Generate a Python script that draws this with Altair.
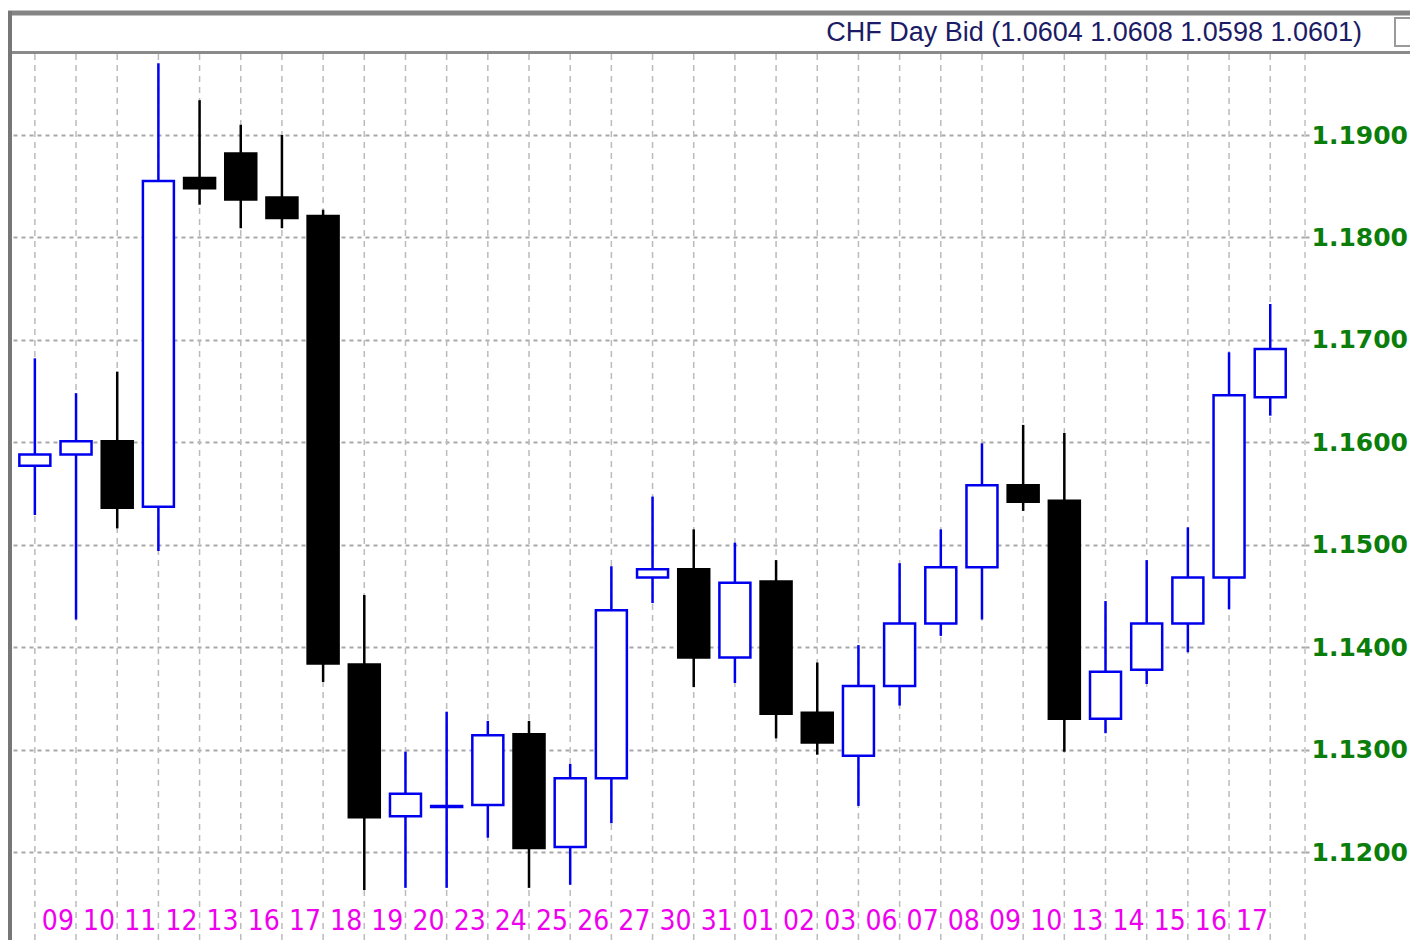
import altair as alt
import pandas as pd

# ---- data ----
dates = ["09", "10", "11", "12", "13", "16", "17", "18", "19", "20", "23", "24", "25", "26", "27",
         "30", "31", "01", "02", "03", "06", "07", "08", "09", "10", "13", "14", "15", "16", "17", ""]
opens = [1.1577, 1.1588, 1.1601, 1.1537, 1.1858, 1.1882, 1.1839, 1.1821, 1.1383, 1.1235, 1.1244,
         1.1246, 1.1315, 1.1205, 1.1272, 1.1468, 1.1476, 1.1390, 1.1464, 1.1336, 1.1294, 1.1362,
         1.1423, 1.1478, 1.1558, 1.1543, 1.1330, 1.1378, 1.1423, 1.1468, 1.1644]
highs = [1.1682, 1.1648, 1.1669, 1.1970, 1.1934, 1.1910, 1.1900, 1.1827, 1.1451, 1.1298, 1.1337,
         1.1328, 1.1328, 1.1286, 1.1479, 1.1547, 1.1515, 1.1502, 1.1485, 1.1385, 1.1402, 1.1482,
         1.1515, 1.1599, 1.1617, 1.1609, 1.1445, 1.1485, 1.1517, 1.1688, 1.1735]
lows = [1.1529, 1.1427, 1.1516, 1.1494, 1.1832, 1.1809, 1.1809, 1.1366, 1.1163, 1.1165, 1.1165,
        1.1214, 1.1165, 1.1168, 1.1228, 1.1443, 1.1361, 1.1365, 1.1311, 1.1295, 1.1245, 1.1343,
        1.1411, 1.1427, 1.1533, 1.1298, 1.1316, 1.1364, 1.1395, 1.1437, 1.1626]
closes = [1.1588, 1.1601, 1.1536, 1.1855, 1.1848, 1.1837, 1.1819, 1.1384, 1.1234, 1.1257, 1.1245,
          1.1314, 1.1204, 1.1272, 1.1436, 1.1476, 1.1390, 1.1463, 1.1335, 1.1307, 1.1362, 1.1423,
          1.1478, 1.1558, 1.1542, 1.1330, 1.1376, 1.1423, 1.1468, 1.1646, 1.1691]
price_ticks = [1.12, 1.13, 1.14, 1.15, 1.16, 1.17, 1.18, 1.19]
title_text = "CHF Day Bid (1.0604 1.0608 1.0598 1.0601)"

df = pd.DataFrame({
    "i": list(range(len(opens))),
    "d": dates,
    "open": opens,
    "high": highs,
    "low": lows,
    "close": closes,
})
df["dir"] = ["up" if c >= o else "down" for o, c in zip(opens, closes)]

W, H = 1293, 886
BLUE = "#0000ee"

x = alt.X("i:Q", scale=alt.Scale(domain=[-0.4337, 30.723], nice=False, zero=False), axis=None)
yscale = alt.Scale(domain=[1.11141, 1.19791], nice=False, zero=False)

base = alt.Chart(df)

yaxis = alt.Axis(orient="right", values=price_ticks, format=".4f", grid=True,
                 gridDash=[4, 4], gridColor="#a8a8a8", gridWidth=2, domain=False,
                 tickSize=4, tickColor="#a8a8a8", tickWidth=2,
                 labelFont="DejaVu Sans", labelFontWeight="bold", labelFontSize=25,
                 labelColor="#0a7d0a", labelPadding=2, title=None)

hgrid = base.mark_rule(opacity=0).encode(
    y=alt.Y("high:Q", scale=yscale, axis=yaxis)
)

vgrid = base.mark_rule(color="#bbbbbb", strokeWidth=1.5, strokeDash=[6, 5]).encode(
    x=x, y=alt.value(0), y2=alt.value(H)
)

right_edge = base.mark_rule(color="#d0d0d0", strokeWidth=1.5, strokeDash=[6, 5]).encode(
    x=alt.value(W), y=alt.value(0), y2=alt.value(H)
)

wicks = base.mark_rule(strokeWidth=2.5).encode(
    x=x,
    y=alt.Y("low:Q", scale=yscale),
    y2="high:Q",
    color=alt.Color("dir:N", scale=alt.Scale(domain=["up", "down"], range=[BLUE, "#000000"]), legend=None),
)

bodies = base.mark_bar(size=31, strokeWidth=2.5).encode(
    x=x,
    y=alt.Y("open:Q", scale=yscale),
    y2="close:Q",
    fill=alt.Fill("dir:N", scale=alt.Scale(domain=["up", "down"], range=["#ffffff", "#000000"]), legend=None),
    stroke=alt.Stroke("dir:N", scale=alt.Scale(domain=["up", "down"], range=[BLUE, "#000000"]), legend=None),
)

date_labels = base.mark_text(
    align="left", baseline="alphabetic", dx=7,
    font="Liberation Sans Narrow, DejaVu Sans Condensed, Roboto Condensed, Liberation Sans, sans-serif",
    fontSize=28, color="#ee00ee",
).encode(
    x=x, y=alt.value(H - 10), text="d:N"
)

one = alt.Chart(pd.DataFrame({"t": [title_text]}))

frame_top = one.mark_rule(color="#858585", strokeWidth=5).encode(
    x=alt.value(-4), x2=alt.value(W + 120), y=alt.value(-41))
frame_mid = one.mark_rule(color="#8a8a8a", strokeWidth=3).encode(
    x=alt.value(-4), x2=alt.value(W + 120), y=alt.value(-1.5))
frame_left = one.mark_rule(color="#777777", strokeWidth=4).encode(
    x=alt.value(-2), y=alt.value(-43), y2=alt.value(H))
close_box = one.mark_rect(fill="#ffffff", stroke="#9a9a9a", strokeWidth=2).encode(
    x=alt.value(1383), x2=alt.value(1420), y=alt.value(-36), y2=alt.value(-8))
title = one.mark_text(align="right", baseline="middle", font="Liberation Sans",
                      fontSize=27, color="#1c1c66").encode(
    x=alt.value(1350), y=alt.value(-21), text="t:N")

chart = alt.layer(
    hgrid, vgrid, right_edge, wicks, bodies, date_labels,
    frame_top, frame_mid, frame_left, close_box, title
).properties(
    width=W, height=H,
    autosize=alt.AutoSizeParams(type="none"),
    padding={"left": 4, "top": 46, "right": 105, "bottom": 0},
    background="#ffffff",
).configure_view(strokeWidth=0)

chart.save("out.html", embed_options={"renderer": "svg", "actions": False})
